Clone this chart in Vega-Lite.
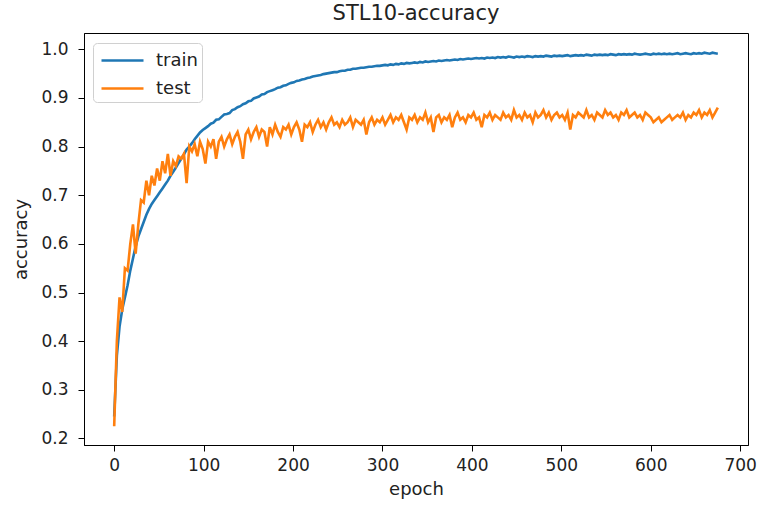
{
"$schema": "https://vega.github.io/schema/vega-lite/v6.json",
"width": 664, "height": 412,
"autosize": {"type": "none"},
"padding": {"left": 84, "top": 33, "right": 9, "bottom": 63},
"background": "white",
"title": {"text": "STL10-accuracy", "fontSize": 21, "font": "DejaVu Sans", "fontWeight": "normal", "color": "#222", "offset": 9},
"data": {"values": [
{"e":0,"train":0.245,"test":0.225},{"e":3,"train":0.37,"test":0.40},{"e":6,"train":0.43,"test":0.49},{"e":9,"train":0.465,"test":0.46},{"e":12,"train":0.49,"test":0.55},{"e":15,"train":0.515,"test":0.545},{"e":18,"train":0.545,"test":0.60},{"e":21,"train":0.57,"test":0.64},{"e":24,"train":0.595,"test":0.58},{"e":27,"train":0.615,"test":0.64},
{"e":30,"train":0.63,"test":0.69},{"e":33,"train":0.645,"test":0.685},{"e":36,"train":0.66,"test":0.73},{"e":39,"train":0.672,"test":0.70},{"e":42,"train":0.682,"test":0.74},{"e":45,"train":0.69,"test":0.72},{"e":48,"train":0.698,"test":0.755},{"e":51,"train":0.706,"test":0.73},{"e":54,"train":0.714,"test":0.77},{"e":57,"train":0.722,"test":0.745},
{"e":60,"train":0.73,"test":0.785},{"e":63,"train":0.74,"test":0.74},{"e":66,"train":0.748,"test":0.77},{"e":69,"train":0.757,"test":0.76},{"e":72,"train":0.766,"test":0.78},{"e":75,"train":0.775,"test":0.775},{"e":78,"train":0.784,"test":0.785},{"e":81,"train":0.794,"test":0.725},{"e":84,"train":0.80,"test":0.80},{"e":87,"train":0.807,"test":0.79},
{"e":90,"train":0.815,"test":0.805},{"e":93,"train":0.822,"test":0.78},{"e":96,"train":0.829,"test":0.81},{"e":99,"train":0.834,"test":0.795},{"e":102,"train":0.838,"test":0.765},{"e":105,"train":0.842,"test":0.81},{"e":108,"train":0.847,"test":0.80},{"e":111,"train":0.849,"test":0.815},{"e":114,"train":0.855,"test":0.775},{"e":117,"train":0.856,"test":0.81},
{"e":120,"train":0.861,"test":0.82},{"e":123,"train":0.866,"test":0.80},{"e":126,"train":0.867,"test":0.815},{"e":129,"train":0.869,"test":0.825},{"e":132,"train":0.875,"test":0.805},{"e":135,"train":0.877,"test":0.82},{"e":138,"train":0.881,"test":0.83},{"e":141,"train":0.883,"test":0.81},{"e":144,"train":0.887,"test":0.775},{"e":147,"train":0.889,"test":0.825},
{"e":150,"train":0.893,"test":0.835},{"e":153,"train":0.894,"test":0.815},{"e":156,"train":0.899,"test":0.83},{"e":159,"train":0.901,"test":0.84},{"e":162,"train":0.903,"test":0.82},{"e":165,"train":0.907,"test":0.835},{"e":168,"train":0.908,"test":0.83},{"e":171,"train":0.912,"test":0.80},{"e":174,"train":0.914,"test":0.84},{"e":177,"train":0.916,"test":0.825},
{"e":180,"train":0.918,"test":0.845},{"e":183,"train":0.921,"test":0.83},{"e":186,"train":0.922,"test":0.82},{"e":189,"train":0.925,"test":0.84},{"e":192,"train":0.926,"test":0.835},{"e":195,"train":0.929,"test":0.845},{"e":198,"train":0.931,"test":0.825},{"e":201,"train":0.932,"test":0.84},{"e":204,"train":0.935,"test":0.85},{"e":207,"train":0.936,"test":0.835},
{"e":210,"train":0.938,"test":0.81},{"e":213,"train":0.939,"test":0.845},{"e":216,"train":0.941,"test":0.84},{"e":219,"train":0.942,"test":0.85},{"e":222,"train":0.944,"test":0.83},{"e":225,"train":0.945,"test":0.845},{"e":228,"train":0.946,"test":0.855},{"e":231,"train":0.947,"test":0.84},{"e":234,"train":0.949,"test":0.85},{"e":237,"train":0.95,"test":0.835},
{"e":240,"train":0.951,"test":0.85},{"e":243,"train":0.952,"test":0.86},{"e":246,"train":0.953,"test":0.845},{"e":249,"train":0.953,"test":0.85},{"e":252,"train":0.955,"test":0.84},{"e":255,"train":0.956,"test":0.855},{"e":258,"train":0.956,"test":0.845},{"e":261,"train":0.958,"test":0.85},{"e":264,"train":0.958,"test":0.86},{"e":267,"train":0.96,"test":0.84},
{"e":270,"train":0.96,"test":0.855},{"e":273,"train":0.961,"test":0.85},{"e":276,"train":0.962,"test":0.845},{"e":279,"train":0.962,"test":0.855},{"e":282,"train":0.963,"test":0.825},{"e":285,"train":0.964,"test":0.85},{"e":288,"train":0.964,"test":0.86},{"e":291,"train":0.965,"test":0.845},{"e":294,"train":0.966,"test":0.855},{"e":297,"train":0.966,"test":0.85},
{"e":300,"train":0.967,"test":0.86},{"e":303,"train":0.968,"test":0.845},{"e":306,"train":0.967,"test":0.855},{"e":309,"train":0.969,"test":0.865},{"e":312,"train":0.968,"test":0.85},{"e":315,"train":0.970,"test":0.86},{"e":318,"train":0.969,"test":0.855},{"e":321,"train":0.971,"test":0.865},{"e":324,"train":0.970,"test":0.85},{"e":327,"train":0.972,"test":0.835},
{"e":330,"train":0.971,"test":0.86},{"e":333,"train":0.972,"test":0.855},{"e":336,"train":0.973,"test":0.865},{"e":339,"train":0.972,"test":0.85},{"e":342,"train":0.974,"test":0.86},{"e":345,"train":0.973,"test":0.855},{"e":348,"train":0.975,"test":0.87},{"e":351,"train":0.974,"test":0.85},{"e":354,"train":0.975,"test":0.86},{"e":357,"train":0.976,"test":0.83},
{"e":360,"train":0.975,"test":0.86},{"e":363,"train":0.977,"test":0.865},{"e":366,"train":0.976,"test":0.85},{"e":369,"train":0.977,"test":0.86},{"e":372,"train":0.978,"test":0.855},{"e":375,"train":0.977,"test":0.865},{"e":378,"train":0.978,"test":0.84},{"e":381,"train":0.979,"test":0.86},{"e":384,"train":0.978,"test":0.87},{"e":387,"train":0.980,"test":0.855},
{"e":390,"train":0.979,"test":0.86},{"e":393,"train":0.980,"test":0.85},{"e":396,"train":0.981,"test":0.865},{"e":399,"train":0.980,"test":0.86},{"e":402,"train":0.981,"test":0.87},{"e":405,"train":0.982,"test":0.855},{"e":408,"train":0.981,"test":0.86},{"e":411,"train":0.982,"test":0.84},{"e":414,"train":0.981,"test":0.865},{"e":417,"train":0.983,"test":0.86},
{"e":420,"train":0.982,"test":0.87},{"e":423,"train":0.983,"test":0.855},{"e":426,"train":0.982,"test":0.865},{"e":429,"train":0.984,"test":0.86},{"e":432,"train":0.983,"test":0.855},{"e":435,"train":0.984,"test":0.87},{"e":438,"train":0.983,"test":0.86},{"e":441,"train":0.985,"test":0.865},{"e":444,"train":0.984,"test":0.855},{"e":447,"train":0.983,"test":0.875},
{"e":450,"train":0.985,"test":0.86},{"e":453,"train":0.984,"test":0.865},{"e":456,"train":0.985,"test":0.855},{"e":459,"train":0.984,"test":0.87},{"e":462,"train":0.986,"test":0.86},{"e":465,"train":0.985,"test":0.865},{"e":468,"train":0.984,"test":0.85},{"e":471,"train":0.986,"test":0.87},{"e":474,"train":0.985,"test":0.86},{"e":477,"train":0.986,"test":0.865},
{"e":480,"train":0.985,"test":0.875},{"e":483,"train":0.987,"test":0.86},{"e":486,"train":0.986,"test":0.87},{"e":489,"train":0.985,"test":0.855},{"e":492,"train":0.987,"test":0.865},{"e":495,"train":0.986,"test":0.87},{"e":498,"train":0.987,"test":0.86},{"e":501,"train":0.986,"test":0.865},{"e":504,"train":0.987,"test":0.855},{"e":507,"train":0.988,"test":0.87},
{"e":510,"train":0.986,"test":0.835},{"e":513,"train":0.987,"test":0.865},{"e":516,"train":0.988,"test":0.86},{"e":519,"train":0.987,"test":0.87},{"e":522,"train":0.988,"test":0.865},{"e":525,"train":0.987,"test":0.86},{"e":528,"train":0.989,"test":0.875},{"e":531,"train":0.988,"test":0.86},{"e":534,"train":0.987,"test":0.865},{"e":537,"train":0.989,"test":0.855},
{"e":540,"train":0.988,"test":0.87},{"e":543,"train":0.989,"test":0.865},{"e":546,"train":0.988,"test":0.86},{"e":549,"train":0.989,"test":0.875},{"e":552,"train":0.988,"test":0.865},{"e":555,"train":0.990,"test":0.87},{"e":558,"train":0.989,"test":0.86},{"e":561,"train":0.988,"test":0.865},{"e":564,"train":0.990,"test":0.855},{"e":567,"train":0.989,"test":0.87},
{"e":570,"train":0.990,"test":0.865},{"e":573,"train":0.989,"test":0.875},{"e":576,"train":0.990,"test":0.86},{"e":579,"train":0.989,"test":0.865},{"e":582,"train":0.991,"test":0.87},{"e":585,"train":0.990,"test":0.86},{"e":588,"train":0.989,"test":0.865},{"e":591,"train":0.990,"test":0.855},{"e":594,"train":0.991,"test":0.87},{"e":597,"train":0.990,"test":0.865},
{"e":600,"train":0.989,"test":0.86},{"e":603,"train":0.991,"test":0.85},{"e":606,"train":0.990,"test":0.855},{"e":609,"train":0.991,"test":0.86},{"e":612,"train":0.990,"test":0.85},{"e":615,"train":0.991,"test":0.855},{"e":618,"train":0.990,"test":0.86},{"e":621,"train":0.991,"test":0.865},{"e":624,"train":0.990,"test":0.855},{"e":627,"train":0.991,"test":0.86},
{"e":630,"train":0.992,"test":0.865},{"e":633,"train":0.990,"test":0.86},{"e":636,"train":0.991,"test":0.87},{"e":639,"train":0.992,"test":0.855},{"e":642,"train":0.991,"test":0.865},{"e":645,"train":0.990,"test":0.86},{"e":648,"train":0.992,"test":0.87},{"e":651,"train":0.991,"test":0.865},{"e":654,"train":0.992,"test":0.875},{"e":657,"train":0.991,"test":0.86},
{"e":660,"train":0.993,"test":0.87},{"e":663,"train":0.992,"test":0.865},{"e":666,"train":0.991,"test":0.875},{"e":669,"train":0.993,"test":0.86},{"e":672,"train":0.992,"test":0.87},{"e":675,"train":0.991,"test":0.88}
]},
"transform": [{"fold": ["train", "test"], "as": ["series", "accuracy"]}],
"mark": {"type": "line", "strokeWidth": 2.6, "clip": true},
"encoding": {
  "x": {"field": "e", "type": "quantitative", "title": "epoch",
        "scale": {"domain": [-33.75, 708.75], "nice": false, "zero": false},
        "axis": {"values": [0,100,200,300,400,500,600,700], "format": "d", "grid": false, "tickSize": 6, "labelPadding": 6, "titlePadding": 7}},
  "y": {"field": "accuracy", "type": "quantitative", "title": "accuracy",
        "scale": {"domain": [0.1865, 1.0335], "nice": false, "zero": false},
        "axis": {"values": [0.2,0.3,0.4,0.5,0.6,0.7,0.8,0.9,1.0], "format": ".1f", "grid": false, "tickSize": 6, "labelPadding": 10, "titlePadding": 10}},
  "color": {"field": "series", "type": "nominal",
            "scale": {"domain": ["train", "test"], "range": ["#1f77b4", "#ff7f0e"]},
            "legend": {"title": null, "orient": "none", "legendX": 9, "legendY": 10, "symbolType": "M-1.75,0L1.75,0", "symbolSize": 576, "symbolStrokeWidth": 2.6, "symbolOffset": 12,
                       "labelFontSize": 18, "labelFont": "DejaVu Sans", "labelColor": "#222", "labelOffset": 20, "rowPadding": 5, "padding": 4,
                       "fillColor": "white", "strokeColor": "#d0d0d0", "cornerRadius": 4}}
},
"config": {
  "font": "DejaVu Sans",
  "view": {"stroke": "black", "strokeWidth": 1},
  "axis": {"domainColor": "black", "tickColor": "black", "labelColor": "#222", "titleColor": "#222", "labelFontSize": 17, "titleFontSize": 18, "titleFontWeight": "normal", "labelFont": "DejaVu Sans", "titleFont": "DejaVu Sans"}
}
}
